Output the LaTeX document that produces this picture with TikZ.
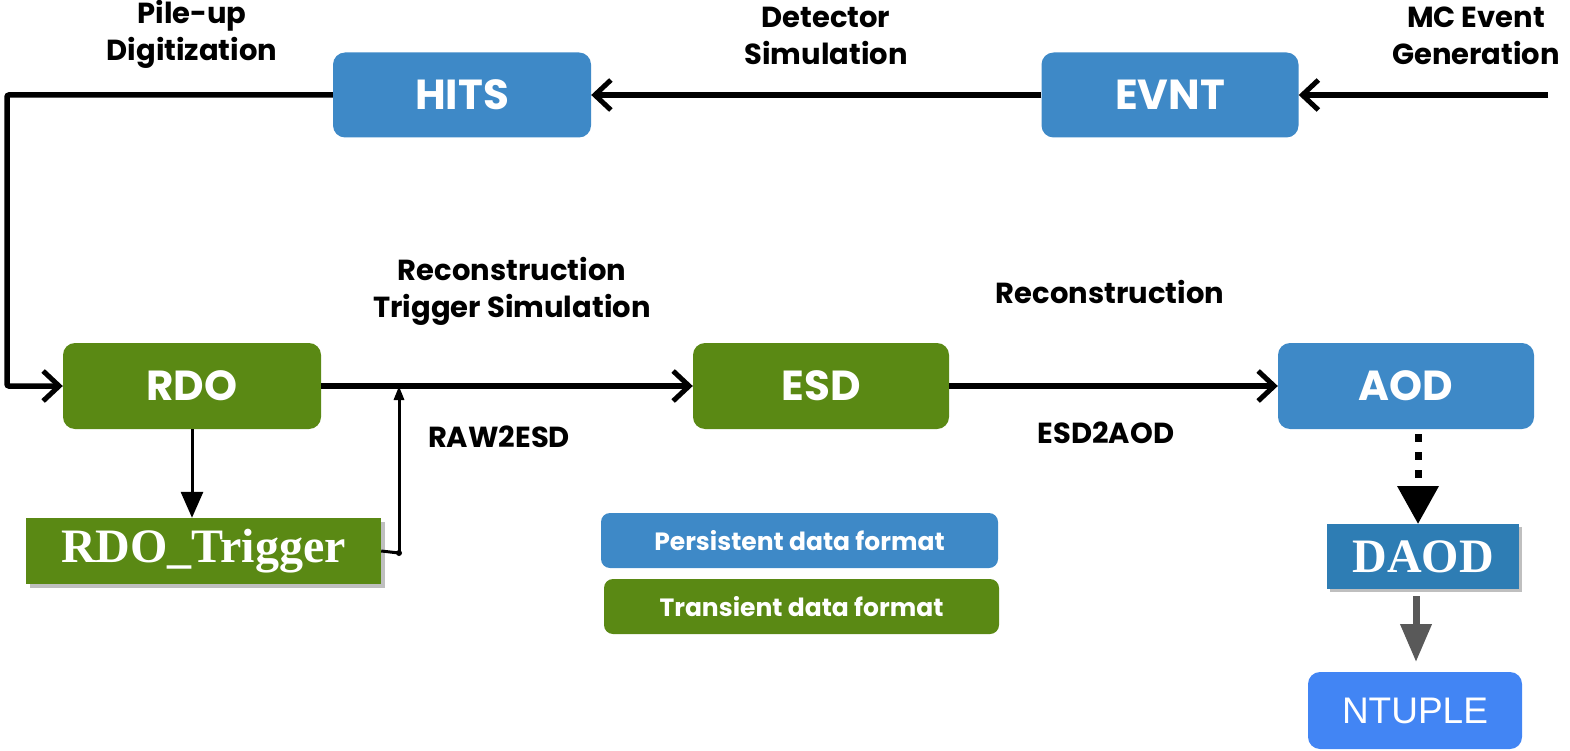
\documentclass[tikz,border=0pt]{standalone}
\usepackage{fontspec}
\setmainfont{Poppins}
\newfontfamily\timesfont{Liberation Serif}
\newfontfamily\arialfont{Liberation Sans}
\usetikzlibrary{arrows.meta}
\definecolor{persist}{RGB}{62,137,199}
\definecolor{transient}{RGB}{90,137,20}
\definecolor{daodblue}{RGB}{46,125,180}
\definecolor{ntupleblue}{RGB}{66,133,244}
\definecolor{darkgrey}{RGB}{89,89,89}
\tikzset{
  fmt/.style={rounded corners=12pt, inner sep=0pt, text=white, font=\bfseries\fontsize{42}{46}\selectfont},
  persistbox/.style={fmt, fill=persist},
  transbox/.style={fmt, fill=transient},
  legendbox/.style={rounded corners=9pt, inner sep=0pt, text=white, font=\bfseries\fontsize{25}{28}\selectfont},
  lbl/.style={font=\bfseries\fontsize{29}{37}\selectfont, align=center, text=black},
  flow/.style={line width=5.5pt, -{Straight Barb[length=16pt, width=30pt, line width=5pt]}},
  thinarrow/.style={line width=3pt, -{Triangle[length=26pt, width=22pt]}},
  thinsmall/.style={line width=3pt, -{Triangle[length=14pt, width=10pt]}},
}
\begin{document}
\begin{tikzpicture}[x=1pt, y=-1pt]
\useasboundingbox (0,0) rectangle (1570,751);

% data format boxes
\node[persistbox, minimum width=258pt, minimum height=85pt] (hits) at (462,95) {HITS};
\node[persistbox, minimum width=257pt, minimum height=85pt] (evnt) at (1170,95) {EVNT};
\node[transbox, minimum width=258pt, minimum height=86pt] (rdo) at (192,386) {RDO};
\node[transbox, minimum width=256pt, minimum height=86pt] (esd) at (821,386) {ESD};
\node[persistbox, minimum width=256pt, minimum height=86pt] (aod) at (1406,386) {AOD};

% trigger and derived formats
\fill[black!25] (30,522) rectangle (385,588);
\node[fill=transient, minimum width=355pt, minimum height=66pt, inner sep=0pt, text=white,
      font=\timesfont\bfseries\fontsize{48}{50}\selectfont] (trig) at (203.5,551) {RDO\_Trigger};
\fill[black!25] (1330,527) rectangle (1522,592);
\node[fill=daodblue, minimum width=192pt, minimum height=65pt, inner sep=0pt, text=white,
      font=\timesfont\bfseries\fontsize{48}{50}\selectfont] (daod) at (1423,556.5) {DAOD};
\node[fill=ntupleblue, rounded corners=12pt, minimum width=214pt, minimum height=77pt, inner sep=0pt,
      text=white, font=\arialfont\fontsize{37}{40}\selectfont] (ntuple) at (1415,710.5) {NTUPLE};

% legend
\node[legendbox, fill=persist, minimum width=397pt, minimum height=55pt] (leg1) at (799.5,540.5) {Persistent data format};
\node[legendbox, fill=transient, minimum width=395pt, minimum height=55pt] (leg2) at (801.5,606.5) {Transient data format};

% process labels
\node[lbl] (l1) at (192,34) {Pile-up\\Digitization};
\node[lbl] (l2) at (826,36) {Detector\\Simulation};
\node[lbl] (l3) at (1476,36) {MC Event\\Generation};
\node[lbl] (l4) at (512,291) {Reconstruction\\Trigger Simulation};
\node[lbl] (l5) at (1110,292) {Reconstruction};
\node[lbl] (l6) at (499,437) {RAW2ESD};
\node[lbl] (l7) at (1106,433) {ESD2AOD};

% main chain
\coordinate (gen) at (1548,95);
\coordinate (c1) at (7,95);
\coordinate (c2) at (7,386);
\coordinate (j) at (399,386);
\coordinate (k) at (399,553);
\draw[flow] (gen) -- (evnt.east);
\draw[flow] (evnt.west) -- (hits.east);
\draw[flow, rounded corners=2pt] (hits.west) -- (c1) -- (c2) -- (rdo.west);
\draw[flow] (rdo.east) -- (esd.west);
\draw[flow] (esd.east) -- (aod.west);

% trigger branch
\draw[thinarrow] (rdo.south) -- (trig.north -| rdo.south);
\draw[line width=3pt] (trig.east) -- (k);
\fill (k) circle (3pt);
\draw[thinsmall] (k) -- (j);

% derivation
\coordinate (a1) at (1418,434);
\coordinate (a2) at (1418,524);
\coordinate (d1) at (1416,596);
\coordinate (d2) at (1416,662);
\draw[line width=7pt, dash pattern=on 8pt off 10pt, -{Triangle[length=38pt, width=40pt]}] (a1) -- (a2);
\draw[darkgrey, line width=7pt, -{Triangle[length=38pt, width=30pt]}] (d1) -- (d2);
\end{tikzpicture}
\end{document}
